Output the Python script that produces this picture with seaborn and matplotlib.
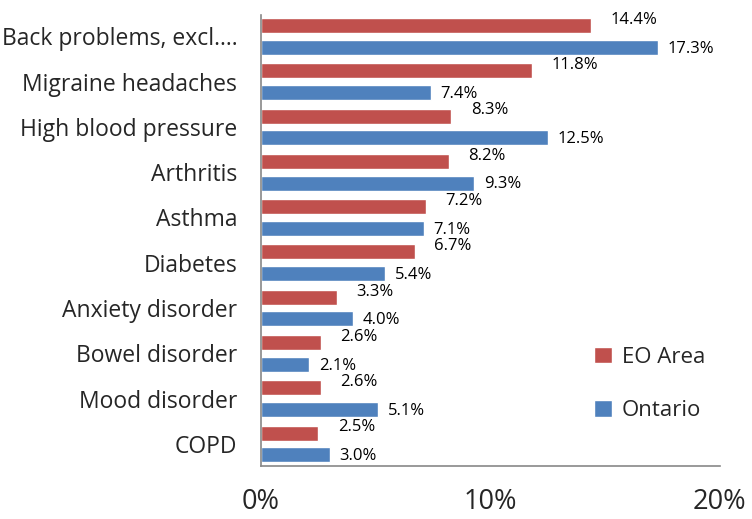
import pandas as pd
import numpy as np
import matplotlib
matplotlib.use('Agg')
import matplotlib.pyplot as plt
import seaborn as sns

# values
conditions = ['Back problems, excl....', 'Migraine headaches', 'High blood pressure',
              'Arthritis', 'Asthma', 'Diabetes', 'Anxiety disorder', 'Bowel disorder',
              'Mood disorder', 'COPD']
eo_area = [14.4, 11.8, 8.3, 8.2, 7.2, 6.7, 3.3, 2.6, 2.6, 2.5]
ontario = [17.3, 7.4, 12.5, 9.3, 7.1, 5.4, 4.0, 2.1, 5.1, 3.0]
series = ['EO Area', 'Ontario']
colours = {'EO Area': '#C0504D', 'Ontario': '#4F81BD'}

df = pd.DataFrame({'Condition': conditions * 2,
                   'Value': eo_area + ontario,
                   'Area': ['EO Area'] * len(conditions) + ['Ontario'] * len(conditions)})

sns.set_style('white')
plt.rcParams['font.family'] = ['Open Sans', 'DejaVu Sans']

fig = plt.figure(figsize=(7.52, 5.19), dpi=100)
ax = fig.add_axes([0.347, 0.102, 0.61, 0.869])

sns.barplot(data=df, y='Condition', x='Value', hue='Area', order=conditions,
            hue_order=series, palette=colours, orient='h', width=0.96, gap=0.31,
            saturation=1, ax=ax)

# value labels; EO labels sit a little higher and further out, as in the original
for cont, name in zip(ax.containers, series):
    for bar in cont:
        v = bar.get_width()
        y = bar.get_y() + bar.get_height() / 2
        dx, dy = (14, 4) if name == 'EO Area' else (7, -1)
        ax.annotate(f'{v:.1f}%', (v, y), xytext=(dx, dy), textcoords='offset points',
                    ha='left', va='center', fontsize=12, color='black')

ax.set_xlim(0, 20)
ax.set_ylim(9.49, -0.47)
ax.set_xticks([0, 10, 20])
ax.set_xticklabels(['0%', '10%', '20%'], fontsize=19.5)
ax.tick_params(axis='x', length=0, pad=16)
ax.tick_params(axis='y', length=0, pad=17, labelsize=16.5)
ax.set_xlabel('')
ax.set_ylabel('')

sns.despine(ax=ax, top=True, right=True)
for s in ['left', 'bottom']:
    ax.spines[s].set_color('#888888')
    ax.spines[s].set_linewidth(1.2)

ax.legend(frameon=False, loc='upper left', bbox_to_anchor=(0.763, 0.37),
          bbox_transform=fig.transFigure, fontsize=16, handlelength=0.8,
          handleheight=0.75, handletextpad=0.45, labelspacing=1.45)

fig.savefig('out.png', dpi=100)
